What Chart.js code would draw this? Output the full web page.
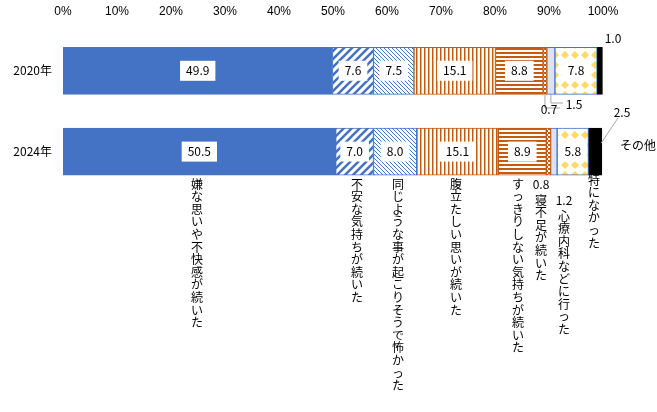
<!DOCTYPE html>
<html><head><meta charset="utf-8">
<script src="https://cdn.jsdelivr.net/npm/chart.js@4"></script>
<style>body{margin:0;background:#fff}#wrap{width:657px;height:412px}</style>
</head><body><div id="wrap"><canvas id="c"></canvas></div>
<script>
// データ
const years = ["2020年", "2024年"];
const itemNames = ["嫌な思いや不快感が続いた", "不安な気持ちが続いた", "同じような事が起こりそうで怖かった",
  "腹立たしい思いが続いた", "すっきりしない気持ちが続いた", "寝不足が続いた", "心療内科などに行った",
  "特になかった", "その他"];
const v2020 = [49.9, 7.6, 7.5, 15.1, 8.8, 0.7, 1.5, 7.8, 1.0];
const v2024 = [50.5, 7.0, 8.0, 15.1, 8.9, 0.8, 1.2, 5.8, 2.5];
const xTicks = [0, 10, 20, 30, 40, 50, 60, 70, 80, 90, 100];

const BLUE = "#4472C4", ORANGE = "#C55A11", YEL = "#FFD966";

function pat(size, draw) {
  const c = document.createElement("canvas");
  c.width = c.height = size;
  const g = c.getContext("2d");
  g.fillStyle = "#fff"; g.fillRect(0, 0, size, size);
  draw(g, size);
  return g.createPattern(c, "repeat");
}
const fills = [
  BLUE,
  pat(8, (g, s) => { g.strokeStyle = BLUE; g.lineWidth = 2.5; g.beginPath();
    g.moveTo(-2, s + 2); g.lineTo(s + 2, -2); g.moveTo(-2, 2); g.lineTo(2, -2); g.moveTo(s - 2, s + 2); g.lineTo(s + 2, s - 2); g.stroke(); }),
  pat(4, (g, s) => { g.strokeStyle = BLUE; g.lineWidth = 1; g.beginPath();
    g.moveTo(0, 0); g.lineTo(s, s); g.moveTo(-1, s - 1); g.lineTo(1, s + 1); g.stroke(); }),
  pat(4, (g, s) => { g.fillStyle = ORANGE; g.fillRect(0, 0, 1.5, s); }),
  pat(4, (g, s) => { g.fillStyle = ORANGE; g.fillRect(0, 0, s, 2); }),
  pat(4, (g, s) => { g.fillStyle = ORANGE; g.fillRect(0, 0, 2, 2); g.fillRect(2, 2, 2, 2); }),
  "#DAE3F3",
  pat(10, (g, s) => { g.fillStyle = YEL; g.beginPath();
    g.moveTo(5, 1); g.lineTo(9, 5); g.lineTo(5, 9); g.lineTo(1, 5); g.closePath(); g.fill(); }),
  "#000"
];

const datasets = itemNames.map((n, i) => ({
  label: n,
  data: [v2020[i], v2024[i]],
  backgroundColor: fills[i],
  borderColor: i === 8 ? "#000" : (i >= 3 && i <= 5 ? ORANGE : BLUE),
  borderWidth: 1,
  borderSkipped: false,
  barThickness: 47
}));

// 値ラベル・縦書き項目名
const labelPlugin = {
  id: "lbl",
  afterDatasetsDraw(chart) {
    const ctx = chart.ctx;
    ctx.save();
    ctx.font = "12px 'Noto Sans CJK JP', sans-serif";
    ctx.textAlign = "center"; ctx.textBaseline = "middle";
    chart.data.datasets.forEach((ds, i) => {
      const meta = chart.getDatasetMeta(i);
      meta.data.forEach((bar, j) => {
        const v = ds.data[j];
        if (v < 5) return;
        const txt = v.toFixed(1);
        const w = ctx.measureText(txt).width + 12;
        if (i > 0) { ctx.fillStyle = "#fff"; ctx.fillRect(bar.x - bar.width / 2 - w / 2, bar.y - 10, w, 20); }
        if (i === 0) { ctx.fillStyle = "#fff"; ctx.fillRect(bar.x - bar.width / 2 - w / 2, bar.y - 10, w, 20); }
        ctx.fillStyle = "#000";
        ctx.fillText(txt, bar.x - bar.width / 2, bar.y);
      });
    });
    const x = chart.scales.x;
    const b0 = chart.getDatasetMeta(0).data;
    const y0b = b0[0].y + 23.5, y1b = b0[1].y + 23.5, y1t = b0[1].y - 23.5;
    const cum = (arr, k) => arr.slice(0, k).reduce((a, b) => a + b, 0);
    ctx.strokeStyle = "#A6A6A6"; ctx.lineWidth = 1;
    // 2020 small values
    ctx.fillStyle = "#000";
    ctx.fillText("1.0", 613, 38);
    const m05 = x.getPixelForValue(cum(v2020, 5) + v2020[5] / 2);
    const m06 = x.getPixelForValue(cum(v2020, 6) + v2020[6] / 2);
    ctx.beginPath(); ctx.moveTo(m05, y0b); ctx.lineTo(m05, 108); ctx.lineTo(560, 108);
    ctx.moveTo(m06, y0b); ctx.lineTo(m06, 103); ctx.lineTo(563, 103); ctx.stroke();
    ctx.fillText("0.7", 549, 109);
    ctx.fillText("1.5", 574, 104);
    // 2.5
    const m8 = x.getPixelForValue(cum(v2024, 8) + v2024[8] / 2);
    ctx.beginPath(); ctx.moveTo(m8 + 6, y1t + 15); ctx.lineTo(618, 118); ctx.stroke();
    ctx.fillText("2.5", 622, 112);
    // 縦書き
    const cols = [
      [0, 197, 184, ""], [1, 357, 184, ""], [2, 398, 184, ""], [3, 456, 184, ""],
      [4, 518, 184, ""], [5, 541, 184, "0.8"], [6, 564, 200, "1.2"], [7, 594, 180, ""]
    ];
    cols.forEach(([i, cx, sy, pre]) => {
      let y = sy;
      if (pre) { ctx.fillText(pre, cx, y); y += 16; }
      for (const ch of itemNames[i]) { ctx.fillText(ch, cx, y); y += 12.6; }
    });
    ctx.fillText("その他", 638, 145);
    ctx.fillText("その他".slice(0, 0), 0, 0);
    ctx.restore();
  }
};

new Chart(document.getElementById("c"), {
  type: "bar",
  data: { labels: years, datasets },
  plugins: [labelPlugin],
  options: {
    indexAxis: "y",
    responsive: true, maintainAspectRatio: false, animation: false,
    layout: { padding: { top: 0, right: 54, bottom: 220, left: 0 } },
    plugins: { legend: { display: false }, tooltip: { enabled: false } },
    scales: {
      x: {
        stacked: true, position: "top", min: 0, max: 100,
        afterBuildTicks: s => { s.ticks = xTicks.map(v => ({ value: v })); },
        ticks: { callback: v => v + "%", color: "#000", font: { size: 12 }, padding: 4 },
        grid: { display: false }, border: { display: false }
      },
      y: {
        stacked: true,
        afterFit: s => { s.width = 63; },
        ticks: { color: "#000", font: { size: 12, family: "'Noto Sans CJK JP', sans-serif" } },
        grid: { display: false }, border: { display: false }
      }
    }
  }
});
</script></body></html>
